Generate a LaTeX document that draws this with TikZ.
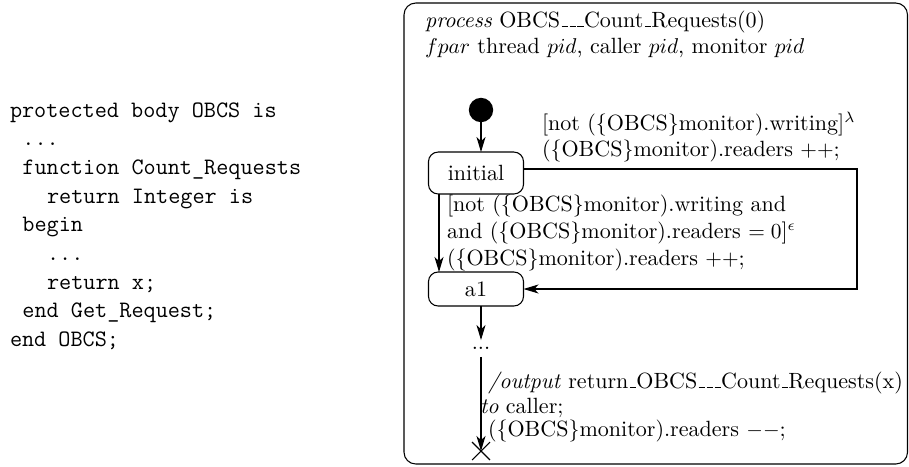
\documentclass[tikz,border=0pt]{standalone}
\usetikzlibrary{arrows.meta,shapes.misc}
\newcommand\usc{\leavevmode\kern.06em\vbox{\hrule width.3em}}
\begin{document}
\begin{tikzpicture}[x=0.4673pt,y=-0.4673pt,
  >={Stealth[length=7pt,width=4.2pt,inset=1.9pt]},
  every node/.style={inner sep=0pt, outer sep=0pt},
  lbl/.style={anchor=base west, font=\fontsize{10.3}{12.4}\selectfont},
  code/.style={anchor=base west, font=\fontsize{11}{13}\selectfont\ttfamily},
  state/.style={draw, rounded corners=4.5pt, minimum width=44.4pt, line width=0.5pt, font=\fontsize{10.3}{12.4}\selectfont},
  conn/.style={line width=0.5pt},
  arr/.style={conn, ->}
]
\useasboundingbox (0,0) rectangle (909,466);

% code
\node[code] (c1) at (10,117) {protected body OBCS is};
\node[code] (c2) at (22.4,145.7) {...};
\node[code] (c3) at (22.4,174.4) {function Count\_Requests};
\node[code] (c4) at (47.1,203.1) {return Integer is};
\node[code] (c5) at (22.4,231.8) {begin};
\node[code] (c6) at (47.1,260.5) {...};
\node[code] (c7) at (47.1,289.2) {return x;};
\node[code] (c8) at (22.4,317.9) {end Get\_Request;};
\node[code] (c9) at (10,346.6) {end OBCS;};

% frame
\draw[conn, rounded corners=5.5pt] (404,3) rectangle (907.5,464);
\node[lbl] (h1) at (425,27) {\textit{process} OBCS\usc\usc\usc Count\usc Requests(0)};
\node[lbl] (h2) at (425,53) {$fpar$ thread $pid$, caller $pid$, monitor $pid$};

% states
\node[circle, fill, minimum size=11.4pt] (start) at (481,110) {};
\node[state, minimum height=19.6pt] (init) at (476,173) {initial};
\node[state, minimum height=15.9pt] (a1) at (476,289) {a1};
\node[minimum height=7.9pt, font=\fontsize{10.3}{12.4}\selectfont] (dots) at (481,348.5) {...};
\node[cross out, draw, line width=0.5pt, minimum width=8.4pt, minimum height=8.4pt] (fin) at (481,451) {};

\coordinate (lx) at (439,0);
\coordinate (rx) at (857,169);

\draw[arr] (start) -- (start |- init.north);
\draw[arr] (init.south -| lx) -- (a1.north -| lx);
\draw[arr] (rx -| init.east) -- (rx) |- (a1.east);
\draw[arr] (a1.south -| dots) -- (dots.north);
\draw[arr] (dots.south) -- (fin.center);

% labels
\node[lbl] (l1a) at (542,130) {[not (\{OBCS\}monitor).writing]$^\lambda$};
\node[lbl] (l1b) at (542,156) {(\{OBCS\}monitor).readers $++$;};
\node[lbl] (l2a) at (447,211) {[not (\{OBCS\}monitor).writing and};
\node[lbl] (l2b) at (447,238) {and (\{OBCS\}monitor).readers $=0$]$^\epsilon$};
\node[lbl] (l2c) at (447,265) {(\{OBCS\}monitor).readers $++$;};
\node[lbl] (l3a) at (488,388) {\textit{/output} return\usc OBCS\usc\usc\usc Count\usc Requests(x)};
\node[lbl] (l3b) at (480,413) {\textit{to} caller;};
\node[lbl] (l3c) at (488,436) {(\{OBCS\}monitor).readers $--$;};
\end{tikzpicture}
\end{document}
